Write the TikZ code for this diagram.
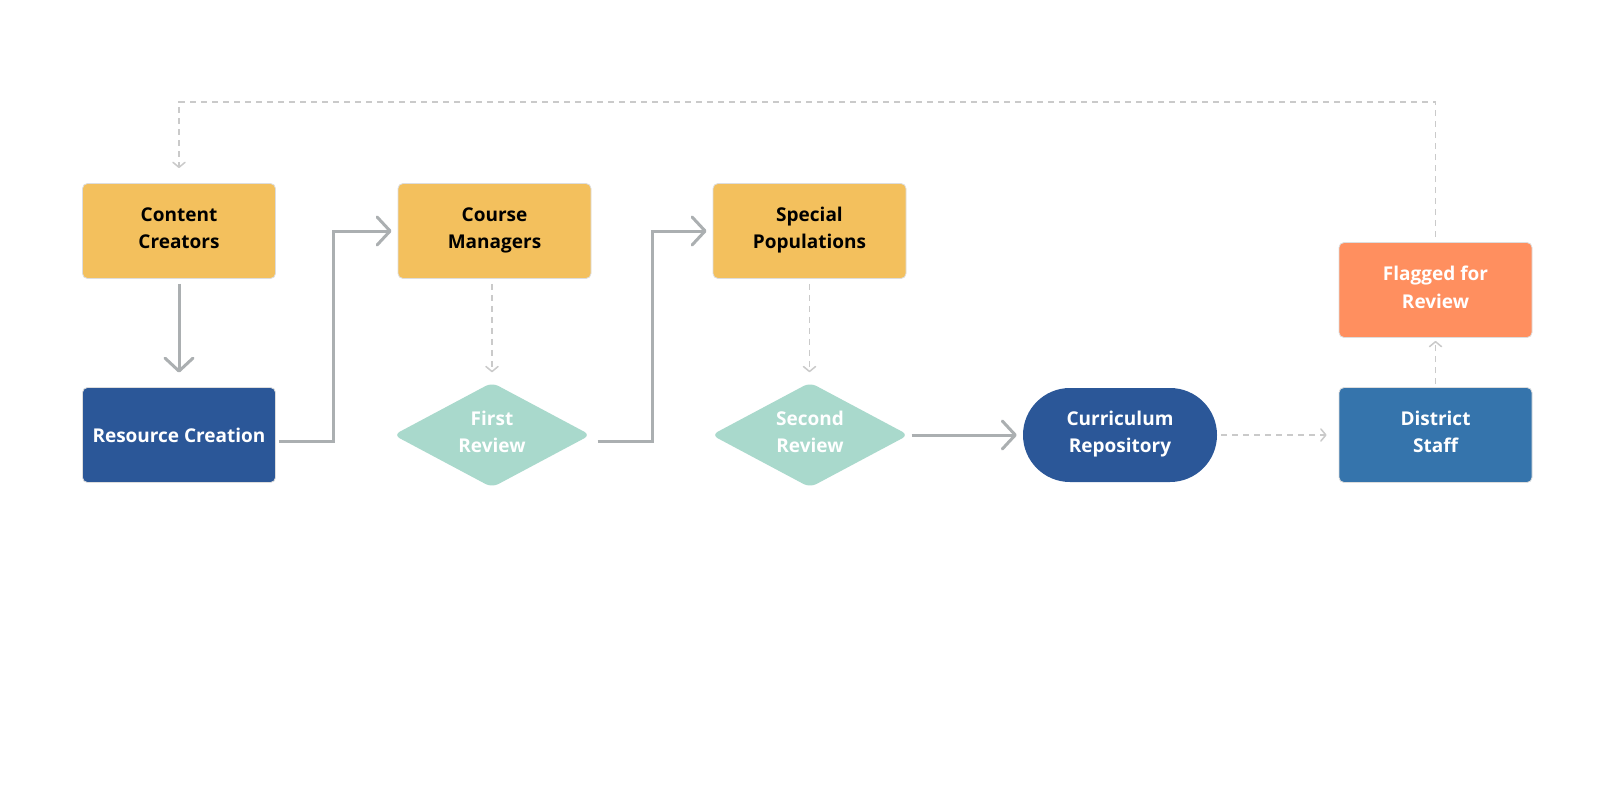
\documentclass[tikz,border=0pt]{standalone}
\usepackage{fontspec}
\setmainfont{Open Sans}
\usetikzlibrary{arrows.meta,shapes.geometric,calc}
\definecolor{cyellow}{HTML}{F3C05D}
\definecolor{cdark}{HTML}{2B5798}
\definecolor{cteal}{HTML}{A9D9CC}
\definecolor{corange}{HTML}{FF8F5F}
\definecolor{csteel}{HTML}{3574AC}
\definecolor{carrow}{HTML}{ABAFB1}
\definecolor{cdash}{HTML}{CACACA}
\definecolor{cborder}{HTML}{DDDDDD}
\begin{document}
\begin{tikzpicture}[x=1pt,y=-1pt,
  font=\bfseries\fontsize{19}{27.5}\selectfont,
  multi/.style={execute at begin node={\rule[-6pt]{0pt}{39pt}}, execute at end node={\rule[-6pt]{0pt}{6pt}}},
  single/.style={execute at begin node={\rule[-6pt]{0pt}{27pt}}},
  box/.style={rectangle, rounded corners=5pt, minimum width=193pt, minimum height=95pt, draw=cborder, line width=0.8pt, align=center, inner sep=0pt},
  yel/.style={box, multi, fill=cyellow, text=black},
  dk/.style={box, single, fill=cdark, text=white},
  org/.style={box, multi, fill=corange, text=white},
  stl/.style={box, multi, fill=csteel, text=white},
  dec/.style={diamond, multi, aspect=1.87, minimum width=197pt, minimum height=105pt, inner sep=0pt, rounded corners=7pt, fill=cteal, text=white, align=center},
  stad/.style={rectangle, multi, rounded corners=47pt, minimum width=194pt, minimum height=94pt, fill=cdark, text=white, align=center, inner sep=0pt},
  solidarr/.style={draw=carrow, line width=3pt, -{Straight Barb[length=13pt,width=28pt,round]}},
  dasharr/.style={draw=cdash, line width=1.5pt, dash pattern=on 6pt off 5pt, -{Straight Barb[length=5pt,width=12pt,round]}}
]
\useasboundingbox[fill=white] (0,0) rectangle (1600,800);

\node[yel] (cc) at (179,231) {Content\\Creators};
\node[dk]  (rc) at (179,435) {Resource Creation};
\node[yel] (cm) at (494.5,231) {Course\\Managers};
\node[dec] (fr) at (492,435) {First\\Review};
\node[yel] (sp) at (809.5,231) {Special\\Populations};
\node[dec] (sr) at (810,435) {Second\\Review};
\node[stad] (cr) at (1120,435) {Curriculum\\Repository};
\node[stl] (ds) at (1435.5,435) {District\\Staff};
\node[org] (fl) at (1435.5,290) {Flagged for\\Review};

\coordinate (rt) at (1435.5,102);
\coordinate (lt) at (179,102);

% solid connectors
\draw[solidarr] ([yshift=-5pt]cc.south) -- ([yshift=14.5pt]rc.north);
\draw[solidarr, line join=miter] ([shift={(3pt,-6pt)}]rc.east) -- ++(55,0) |- ([xshift=-6pt]cm.west);
\draw[solidarr, line join=miter] ([shift={(7pt,-6pt)}]fr.east) -- ++(55,0) |- ([xshift=-6pt]sp.west);
\draw[solidarr] ([xshift=3pt]sr.east) -- ([xshift=-6pt]cr.west);

% dashed connectors
\draw[dasharr] ([yshift=-5pt]cm.south -| fr.north) -- ([yshift=10pt]fr.north);
\draw[dasharr] ([yshift=-5pt]sp.south) -- ($(sp.south |- sr.north)+(0,-10)$);
\draw[dasharr] ([xshift=4pt]cr.east) -- ([xshift=-12pt]ds.west);
\draw[dasharr] ([yshift=3pt]ds.north) -- ([yshift=-3pt]fl.south);
\draw[dasharr] ([yshift=5pt]fl.north) -- (rt) -- (lt) -- ([yshift=15pt]cc.north);
\end{tikzpicture}
\end{document}
